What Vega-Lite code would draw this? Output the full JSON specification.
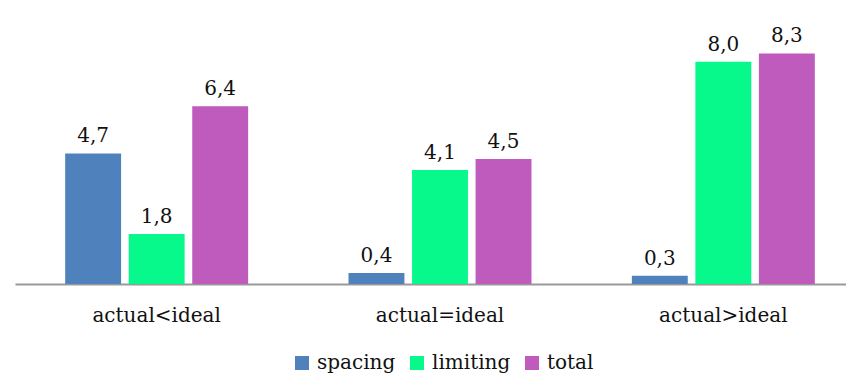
{
  "$schema": "https://vega.github.io/schema/vega-lite/v6.json",
  "width": 850,
  "height": 250,
  "autosize": {"type": "none"},
  "padding": {"left": 15, "top": 34, "right": 0, "bottom": 89},
  "background": "white",
  "config": {
    "view": {"stroke": null},
    "font": "DejaVu Serif",
    "locale": {"number": {"decimal": ",", "thousands": ".", "grouping": [3], "currency": ["", " €"]}}
  },
  "data": {
    "values": [
      {"group": "actual<ideal", "series": "spacing", "value": 4.7},
      {"group": "actual<ideal", "series": "limiting", "value": 1.8},
      {"group": "actual<ideal", "series": "total", "value": 6.4},
      {"group": "actual=ideal", "series": "spacing", "value": 0.4},
      {"group": "actual=ideal", "series": "limiting", "value": 4.1},
      {"group": "actual=ideal", "series": "total", "value": 4.5},
      {"group": "actual>ideal", "series": "spacing", "value": 0.3},
      {"group": "actual>ideal", "series": "limiting", "value": 8.0},
      {"group": "actual>ideal", "series": "total", "value": 8.3}
    ]
  },
  "encoding": {
    "x": {
      "field": "group", "type": "nominal", "sort": null,
      "scale": {"paddingInner": 0, "paddingOuter": 0},
      "axis": {
        "title": null, "labelAngle": 0, "ticks": false,
        "domainColor": "#999999", "domainWidth": 2,
        "labelFont": "DejaVu Serif", "labelFontSize": 20, "labelColor": "#111111",
        "labelPadding": 21
      }
    },
    "xOffset": {
      "field": "series", "type": "nominal", "sort": ["spacing", "limiting", "total"],
      "scale": {"paddingInner": 0.12, "paddingOuter": 0.79}
    },
    "y": {
      "field": "value", "type": "quantitative",
      "scale": {"domain": [0, 9], "nice": false},
      "axis": null
    }
  },
  "layer": [
    {
      "mark": {"type": "bar"},
      "encoding": {
        "color": {
          "field": "series", "type": "nominal",
          "sort": ["spacing", "limiting", "total"],
          "scale": {"domain": ["spacing", "limiting", "total"], "range": ["#4F81BD", "#06F98A", "#BE5BBD"]},
          "legend": {
            "title": null, "orient": "none", "direction": "horizontal",
            "legendX": 277, "legendY": 319, "padding": 0,
            "symbolType": "square", "symbolSize": 196, "symbolStrokeWidth": 0,
            "labelFont": "DejaVu Serif", "labelFontSize": 20, "labelColor": "#111111",
            "labelOffset": 5, "columnPadding": 11
          }
        }
      }
    },
    {
      "mark": {"type": "text", "baseline": "alphabetic", "dy": -11, "font": "DejaVu Serif", "fontSize": 20, "color": "#111111"},
      "encoding": {
        "text": {"field": "value", "type": "quantitative", "format": ".1f"}
      }
    }
  ]
}
